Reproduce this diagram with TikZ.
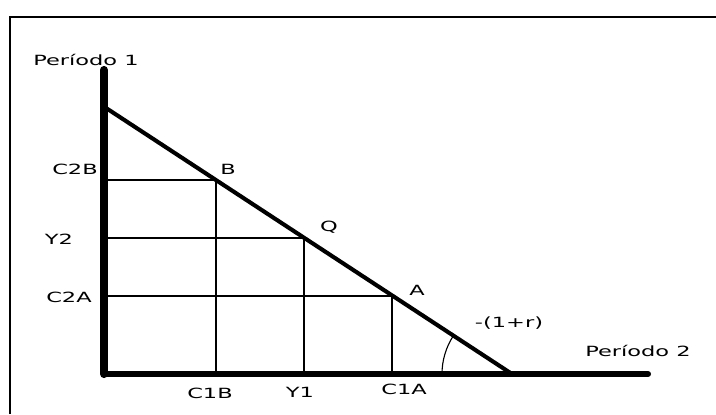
\documentclass[tikz,border=0pt]{standalone}
\usepackage{fontspec}
\setmainfont[FakeStretch=1.6]{DejaVu Sans}
\usepackage{tikz}

\begin{document}
\begin{tikzpicture}[x=0.025cm,y=0.025cm,
    axis/.style={line width=4.3pt,line cap=round},
    budget/.style={line width=2.9pt},
    guide/.style={line width=0.9pt},
    lbl/.style={font=\fontsize{10}{12}\selectfont,inner sep=0pt}]
  \useasboundingbox (0,0) rectangle (716,414);
  \draw[line width=1.4pt] (10,0) -- (10,397) -- (716,397);
  % ejes
  \coordinate (O)    at (104,40);
  \coordinate (ytop) at (104,344);
  \coordinate (xend) at (648,40);
  \draw[axis,line width=5.8pt] (O) -- (ytop);
  \draw[axis] (O) -- (xend);
  % recta presupuestaria
  \coordinate (P) at (106,306);
  \coordinate (R) at (512,40);
  \coordinate (B) at (216,234);
  \coordinate (Q) at (304,176);
  \coordinate (A) at (392,118);
  \draw[budget] (P) -- (R);
  \foreach \p in {B,Q,A} {
    \draw[guide] (\p) -- (\p -| O);
    \draw[guide] (\p) -- (\p |- O);
  }
  \draw[line width=0.8pt] (R) ++(180:70) arc (180:147:70);
  % etiquetas
  \node[lbl] (per1) at (86,354)  {Período 1};
  \node[lbl] (per2) at (638,63)  {Período 2};
  \node[lbl] (c2b)  at (75,245)  {C2B};
  \node[lbl] (y2)   at (59,175)  {Y2};
  \node[lbl] (c2a)  at (69,117)  {C2A};
  \node[lbl] (c1b)  at (210,21)  {C1B};
  \node[lbl] (y1)   at (300,22)  {Y1};
  \node[lbl] (c1a)  at (404,25)  {C1A};
  \node[lbl] (lB)   at (228,245) {B};
  \node[lbl] (lQ)   at (329,187) {Q};
  \node[lbl] (lA)   at (417,124) {A};
  \node[lbl] (slope) at (509,91) {-(1+r)};
\end{tikzpicture}
\end{document}
